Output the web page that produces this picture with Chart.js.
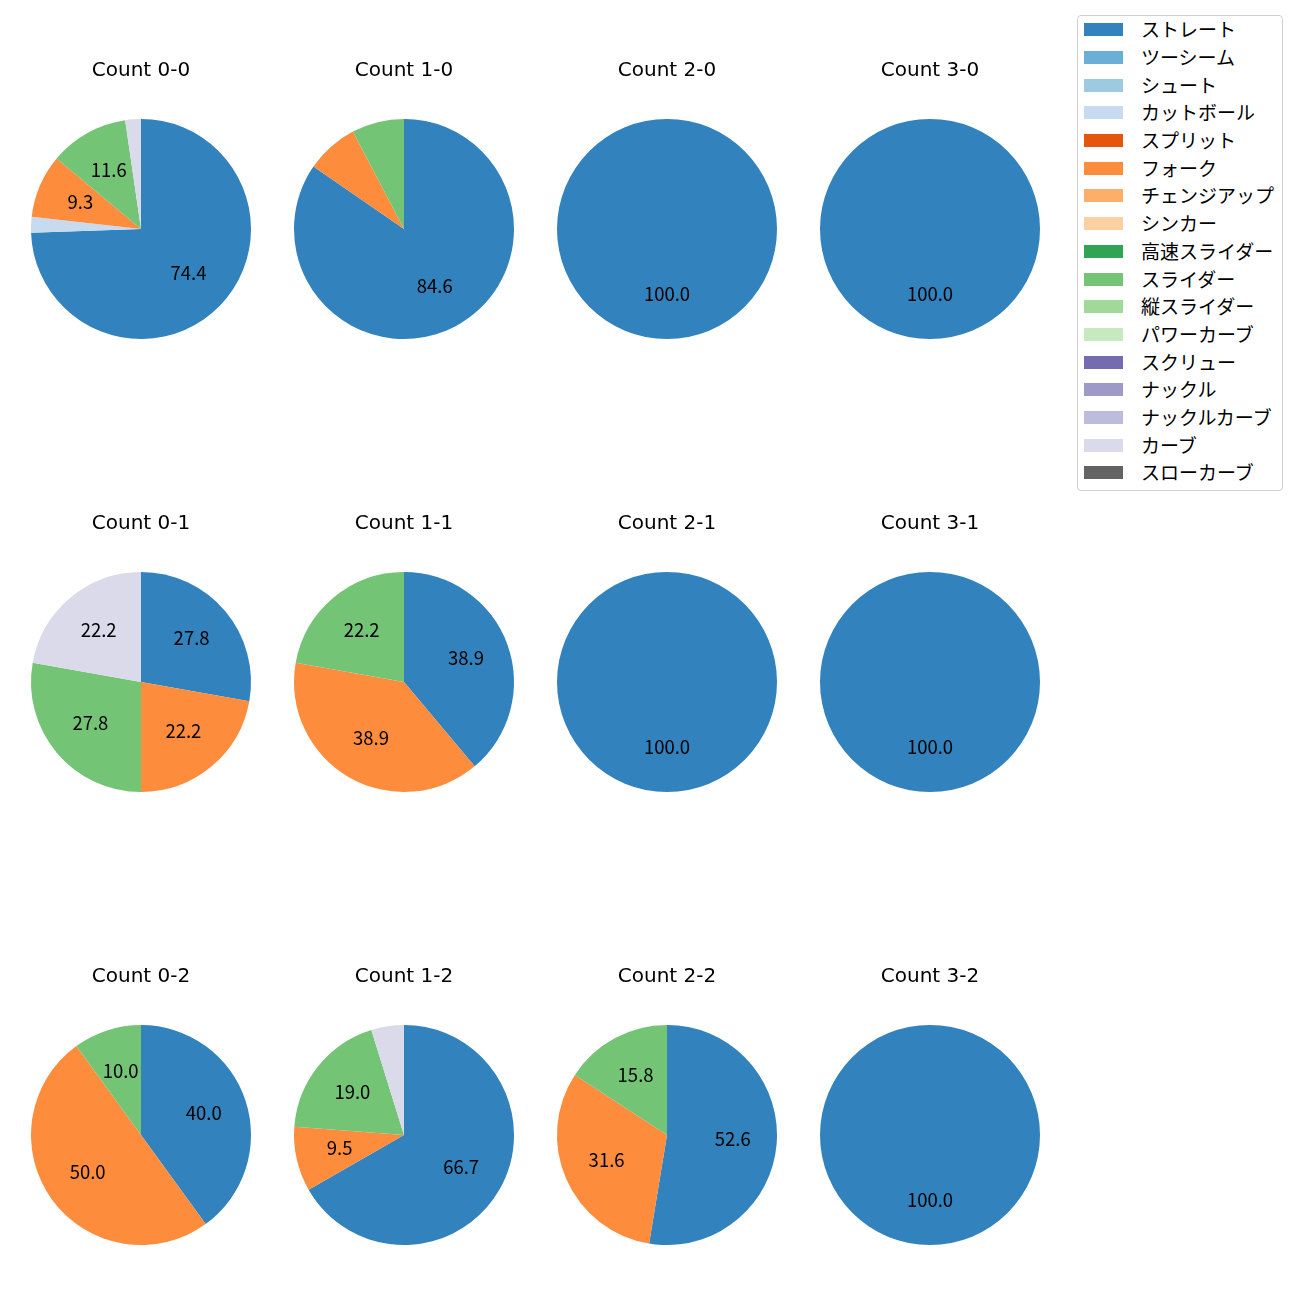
<!DOCTYPE html>
<html>
<head>
<meta charset="utf-8">
<script src="https://cdn.jsdelivr.net/npm/chart.js@4.4.1/dist/chart.umd.min.js"></script>
<style>
  html, body { margin: 0; padding: 0; background: #fff; overflow: hidden; }
  body { width: 1300px; height: 1300px; position: relative; font-family: "Noto Sans CJK JP", "Noto Sans", sans-serif; }
  canvas { position: absolute; }
  #legend { position: absolute; left: 1077px; top: 15px; width: 204px; height: 474px; border: 1px solid #d0d0d0; border-radius: 4px; background: rgba(255,255,255,0.8); }
  .item { position: absolute; left: 0; height: 28px; width: 204px; }
  .sw { position: absolute; left: 6px; top: 8px; width: 39px; height: 13px; }
  .lt { position: absolute; left: 63px; top: 0; line-height: 28px; font-size: 19px; color: #000; white-space: nowrap; }
</style>
</head>
<body>
<div id="legend"></div>
<script>
// Pitch types (legend order) and colours
const pitchTypes = ["ストレート","ツーシーム","シュート","カットボール","スプリット","フォーク","チェンジアップ","シンカー","高速スライダー","スライダー","縦スライダー","パワーカーブ","スクリュー","ナックル","ナックルカーブ","カーブ","スローカーブ"];
const pitchColors = ["#3182bd","#6baed6","#9ecae1","#c6dbef","#e6550d","#fd8d3c","#fdae6b","#fdd0a2","#31a354","#74c476","#a1d99b","#c7e9c0","#756bb1","#9e9ac8","#bcbddc","#dadaeb","#636363"];

// Count titles (row-major, 3 rows x 4 columns)
const countTitles = ["Count 0-0","Count 1-0","Count 2-0","Count 3-0","Count 0-1","Count 1-1","Count 2-1","Count 3-1","Count 0-2","Count 1-2","Count 2-2","Count 3-2"];

// Percentages per pitch type (same order as pitchTypes)
const count00 = [74.4,0,0,2.3,0,9.3,0,0,0,11.6,0,0,0,0,0,2.3,0];
const count10 = [84.6,0,0,0,0,7.7,0,0,0,7.7,0,0,0,0,0,0,0];
const count20 = [100.0,0,0,0,0,0,0,0,0,0,0,0,0,0,0,0,0];
const count30 = [100.0,0,0,0,0,0,0,0,0,0,0,0,0,0,0,0,0];
const count01 = [27.8,0,0,0,0,22.2,0,0,0,27.8,0,0,0,0,0,22.2,0];
const count11 = [38.9,0,0,0,0,38.9,0,0,0,22.2,0,0,0,0,0,0,0];
const count21 = [100.0,0,0,0,0,0,0,0,0,0,0,0,0,0,0,0,0];
const count31 = [100.0,0,0,0,0,0,0,0,0,0,0,0,0,0,0,0,0];
const count02 = [40.0,0,0,0,0,50.0,0,0,0,10.0,0,0,0,0,0,0,0];
const count12 = [66.7,0,0,0,0,9.5,0,0,0,19.0,0,0,0,0,0,4.8,0];
const count22 = [52.6,0,0,0,0,31.6,0,0,0,15.8,0,0,0,0,0,0,0];
const count32 = [100.0,0,0,0,0,0,0,0,0,0,0,0,0,0,0,0,0];
const countData = [count00,count10,count20,count30,count01,count11,count21,count31,count02,count12,count22,count32];

const labelThreshold = 8; // slices below this percentage are not labelled

const pctLabels = {
  id: 'pctLabels',
  afterDatasetsDraw(chart) {
    const ctx = chart.ctx;
    const meta = chart.getDatasetMeta(0);
    const data = chart.data.datasets[0].data;
    ctx.save();
    ctx.font = '18.5px "Noto Sans CJK JP", "Noto Sans", sans-serif';
    ctx.fillStyle = '#000';
    ctx.textAlign = 'center';
    ctx.textBaseline = 'middle';
    meta.data.forEach((arc, i) => {
      const v = data[i];
      if (v < labelThreshold) return;
      const p = arc.getProps(['x','y','startAngle','endAngle','outerRadius'], true);
      const a = (p.startAngle + p.endAngle) / 2;
      ctx.fillText(v.toFixed(1), p.x + Math.cos(a) * p.outerRadius * 0.6, p.y + Math.sin(a) * p.outerRadius * 0.6 - 1.5);
    });
    ctx.restore();
  }
};

const colCenters = [141, 404, 667, 930];
const rowCenters = [229, 682, 1135];
const CW = 262, CH = 310;

countData.forEach((vals, idx) => {
  const r = Math.floor(idx / 4), c = idx % 4;
  const cv = document.createElement('canvas');
  cv.width = CW; cv.height = CH;
  cv.style.width = CW + 'px'; cv.style.height = CH + 'px';
  cv.style.left = (colCenters[c] - CW / 2) + 'px';
  cv.style.top = (rowCenters[r] - 190) + 'px';
  document.body.appendChild(cv);
  new Chart(cv, {
    type: 'pie',
    data: {
      labels: pitchTypes,
      datasets: [{ data: vals, backgroundColor: pitchColors, borderWidth: 0, hoverOffset: 0 }]
    },
    options: {
      responsive: false,
      animation: false,
      devicePixelRatio: 1,
      layout: { padding: { left: 21, right: 21, top: 0, bottom: 10 } },
      plugins: {
        legend: { display: false },
        tooltip: { enabled: false },
        title: {
          display: true,
          text: countTitles[idx],
          color: '#000',
          font: { family: '"DejaVu Sans", "Noto Sans", sans-serif', size: 20, weight: 'normal', lineHeight: 1.2 },
          padding: { top: 19.5, bottom: 36.5 }
        }
      }
    },
    plugins: [pctLabels]
  });
});

// Legend
const lg = document.getElementById('legend');
pitchTypes.forEach((name, i) => {
  const it = document.createElement('div');
  it.className = 'item';
  it.style.top = (-0.8 + 27.7 * i) + 'px';
  const sw = document.createElement('div');
  sw.className = 'sw';
  sw.style.background = pitchColors[i];
  const t = document.createElement('div');
  t.className = 'lt';
  t.textContent = name;
  it.appendChild(sw); it.appendChild(t);
  lg.appendChild(it);
});
</script>
</body>
</html>
